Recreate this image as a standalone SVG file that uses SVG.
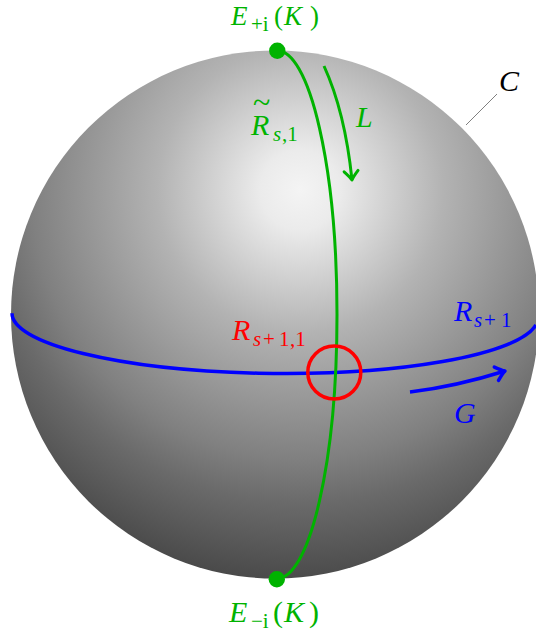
<svg xmlns="http://www.w3.org/2000/svg" width="536" height="637" viewBox="0 0 536 637">
<defs>
<radialGradient id="ball" gradientUnits="userSpaceOnUse" cx="300" cy="190" r="420" fx="300" fy="190">
<stop offset="0" stop-color="#f4f4f4"/>
<stop offset="0.095" stop-color="#ebebeb"/>
<stop offset="0.34" stop-color="#b3b3b3"/>
<stop offset="0.64" stop-color="#808080"/>
<stop offset="0.745" stop-color="#6a6a6a"/>
<stop offset="0.93" stop-color="#4a4a4a"/>
<stop offset="1" stop-color="#404040"/>
</radialGradient>
<marker id="arrG" markerUnits="userSpaceOnUse" viewBox="-12 -8 14 16" markerWidth="14" markerHeight="16" refX="0" refY="0" orient="auto" overflow="visible">
<path d="M -9,-7 Q -3,-1.5 0,0 Q -3,1.5 -9,7" fill="none" stroke="#00b300" stroke-width="3" stroke-linecap="round" stroke-linejoin="round"/>
</marker>
<marker id="arrB" markerUnits="userSpaceOnUse" viewBox="-12 -8 14 16" markerWidth="14" markerHeight="16" refX="0" refY="0" orient="auto" overflow="visible">
<path d="M -9,-7 Q -3,-1.5 0,0 Q -3,1.5 -9,7" fill="none" stroke="#0000ff" stroke-width="3.5" stroke-linecap="round" stroke-linejoin="round"/>
</marker>
</defs>
<style>
text{font-family:"Liberation Serif","Times New Roman",serif;font-size:30px}
text.top{font-size:27px}
.it{font-style:italic}
.sub{font-size:21px}
.tl{font-size:32px}
.g{fill:#00b300}
.b{fill:#0000ff}
.r{fill:#ff0000}
.k{fill:#000000}
</style>
<g id="sphere">
<circle cx="275" cy="314.5" r="264" fill="url(#ball)"/>
</g>
<g id="connectors" fill="none">
<path id="equator" d="M 12,315.5 A 263 58 0 0 0 536,322.6" transform="rotate(0.5 275 315.5)" stroke="#0000ff" stroke-width="3.5"/>
<path id="meridian" d="M 277,50.5 A 60 264 0 0 1 277,578.5" stroke="#00b300" stroke-width="3"/>
<path id="arrowL" d="M 324,66 Q 345,112 352,180" stroke="#00b300" stroke-width="3" marker-end="url(#arrG)"/>
<path id="arrowG" d="M 410,392 Q 456,386.5 505,371" stroke="#0000ff" stroke-width="3.5" marker-end="url(#arrB)"/>
<line id="leaderC" x1="466" y1="125" x2="497" y2="94" stroke="#808080" stroke-width="1"/>
</g>
<g id="intersection">
<circle cx="334.3" cy="372.5" r="26.5" fill="none" stroke="#ff0000" stroke-width="3.5"/>
</g>
<g id="poleTop">
<circle cx="277.3" cy="50.7" r="8.2" fill="#00b300"/>
<text class="g top"><tspan class="it" x="231" y="25">E</tspan><tspan class="sub" x="251" y="31">+i</tspan><tspan x="274" y="25">(</tspan><tspan class="it" x="284" y="25">K</tspan><tspan x="310" y="25">)</tspan></text>
</g>
<g id="poleBottom">
<circle cx="276.8" cy="579.3" r="8.2" fill="#00b300"/>
<text class="g"><tspan class="it" x="229" y="622">E</tspan><tspan class="sub" x="251" y="628">−i</tspan><tspan x="273" y="622">(</tspan><tspan class="it" x="284" y="622">K</tspan><tspan x="309" y="622">)</tspan></text>
</g>
<g id="labelRs1">
<text class="g"><tspan class="tl" x="253" y="113">~</tspan><tspan class="it" x="251" y="135">R</tspan><tspan class="sub it" x="273" y="141">s</tspan><tspan class="sub" x="282" y="141">,1</tspan></text>
</g>
<g id="labelL">
<text class="g it" x="356" y="127">L</text>
</g>
<g id="labelRs11">
<text class="r"><tspan class="it" x="232" y="340">R</tspan><tspan class="sub it" x="253" y="346">s</tspan><tspan class="sub" x="263" y="346">+</tspan><tspan class="sub" x="279" y="346">1</tspan><tspan class="sub" x="290" y="346">,1</tspan></text>
</g>
<g id="labelRs1b">
<text class="b"><tspan class="it" x="454" y="321">R</tspan><tspan class="sub it" x="474" y="327">s</tspan><tspan class="sub" x="484" y="327">+</tspan><tspan class="sub" x="501" y="327">1</tspan></text>
</g>
<g id="labelG">
<text class="b it" x="454" y="423">G</text>
</g>
<g id="labelC">
<text class="k it" x="499" y="91">C</text>
</g>
</svg>
